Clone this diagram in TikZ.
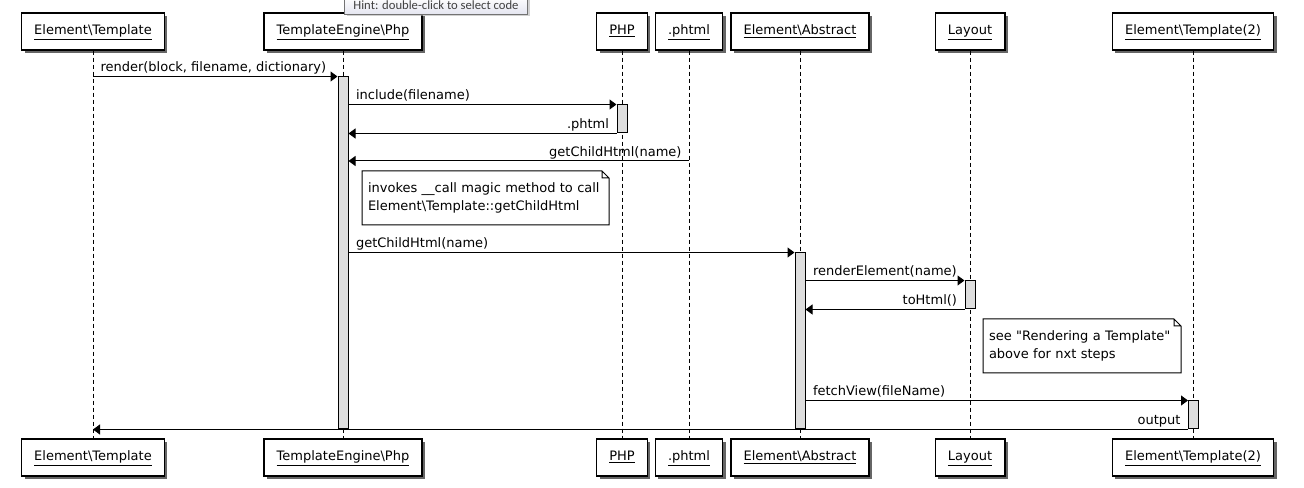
\documentclass[tikz,border=0pt]{standalone}
\usepackage{fontspec}
\setmainfont{DejaVu Sans}
\newfontfamily\hintfont{Carlito}
\usetikzlibrary{arrows.meta,shadows}
\definecolor{hintbottom}{RGB}{228,229,240}
\begin{document}
\begin{tikzpicture}[
    x=0.75pt, y=-0.75pt,
    font=\fontsize{9.75}{13.5}\selectfont,
    part/.style={draw, line width=1.1pt, fill=white, inner xsep=9.5pt, minimum height=27.75pt,
        text height=7.5pt, text depth=3pt,
        drop shadow={shadow xshift=2.25pt, shadow yshift=-2.25pt, fill=black!75, opacity=0.8}},
    lifeline/.style={line width=0.75pt, dash pattern=on 3pt off 2.25pt},
    actbar/.style={draw, line width=0.75pt, fill=black!13, minimum width=7.5pt, inner sep=0pt},
    msg/.style={line width=0.75pt, -{Triangle[length=5.25pt, width=7.5pt]}},
    tolabel/.style={anchor=base west, inner sep=0pt, xshift=5.25pt, yshift=3.4pt},
    backlabel/.style={anchor=base east, inner sep=0pt, xshift=-5.25pt, yshift=3.4pt},
    notebox/.style={anchor=north west, align=left, inner xsep=4.5pt, inner ysep=0pt, outer sep=0pt, minimum height=40.5pt},
    noteline/.style={line width=0.75pt},
    hint/.style={anchor=south west, draw=black!55, line width=0.75pt, top color=white, bottom color=hintbottom,
        text=black!75, font=\hintfont\fontsize{9.5}{10}\selectfont, minimum width=137.25pt, minimum height=13.5pt, inner sep=1pt,
        drop shadow={shadow xshift=1.5pt, shadow yshift=-1.5pt, fill=black!30, opacity=0.6}}
]
\useasboundingbox (0,0) rectangle (1304,488);
\node [part] (et) at (93,31.5) {\underline{Element\textbackslash Template}};
\node [part] (te) at (343,31.5) {\underline{TemplateEngine\textbackslash Php}};
\node [part] (php) at (622,31.5) {\underline{PHP}};
\node [part] (pht) at (689,31.5) {\underline{.phtml}};
\node [part] (ea) at (800,31.5) {\underline{Element\textbackslash Abstract}};
\node [part] (lay) at (970,31.5) {\underline{Layout}};
\node [part] (et2) at (1193,31.5) {\underline{Element\textbackslash Template(2)}};
\node [part] (etb) at (93,457.5) {\underline{Element\textbackslash Template}};
\node [part] (teb) at (343,457.5) {\underline{TemplateEngine\textbackslash Php}};
\node [part] (phpb) at (622,457.5) {\underline{PHP}};
\node [part] (phtb) at (689,457.5) {\underline{.phtml}};
\node [part] (eab) at (800,457.5) {\underline{Element\textbackslash Abstract}};
\node [part] (layb) at (970,457.5) {\underline{Layout}};
\node [part] (et2b) at (1193,457.5) {\underline{Element\textbackslash Template(2)}};
\draw [lifeline] (et) -- (etb);
\draw [lifeline] (te) -- (teb);
\draw [lifeline] (php) -- (phpb);
\draw [lifeline] (pht) -- (phtb);
\draw [lifeline] (ea) -- (eab);
\draw [lifeline] (lay) -- (layb);
\draw [lifeline] (et2) -- (et2b);
\node [actbar, minimum height=264pt] (tebar) at (343,253) {};
\node [actbar, minimum height=21pt] (phpbar) at (622,119) {};
\node [actbar, minimum height=132pt] (eabar) at (800,341) {};
\node [actbar, minimum height=21pt] (laybar) at (970,295) {};
\node [actbar, minimum height=21pt] (et2bar) at (1193.5,415) {};
\coordinate (childcall) at (689,161);
\draw [msg] (et |- tebar.north) -- (tebar.north west)
    node [pos=0, tolabel] {render(block, filename, dictionary)};
\draw [msg] (tebar.east |- phpbar.north) -- (phpbar.north west)
    node [pos=0, tolabel] {include(filename)};
\draw [msg] (phpbar.south west) -- (tebar.east |- phpbar.south)
    node [pos=0, backlabel] {.phtml};
\draw [msg] (childcall) -- (tebar.east |- childcall)
    node [pos=0, backlabel] {getChildHtml(name)};
\draw [msg] (tebar.east |- eabar.north) -- (eabar.north west)
    node [pos=0, tolabel] {getChildHtml(name)};
\draw [msg] (eabar.east |- laybar.north) -- (laybar.north west)
    node [pos=0, tolabel] {renderElement(name)};
\draw [msg] (laybar.south west) -- (eabar.east |- laybar.south)
    node [pos=0, backlabel] {toHtml()};
\draw [msg] (eabar.east |- et2bar.north) -- (et2bar.north west)
    node [pos=0, tolabel] {fetchView(fileName)};
\draw [msg] (et2bar.south west) -- (et |- et2bar.south)
    node [pos=0, backlabel] {output};
\node [notebox, text width=176.25pt] (note1) at (362,171) {invokes \_\_call magic method to call\\Element\textbackslash Template::getChildHtml};
\draw [noteline] (note1.north west) -- ([xshift=-5.25pt]note1.north east) -- ([yshift=-5.25pt]note1.north east)
    -- (note1.south east) -- (note1.south west) -- cycle
    ([xshift=-5.25pt]note1.north east) |- ([yshift=-5.25pt]note1.north east);
\node [notebox, text width=139.5pt] (note2) at (983,319) {see \textquotedbl Rendering a Template\textquotedbl\\above for nxt steps};
\draw [noteline] (note2.north west) -- ([xshift=-5.25pt]note2.north east) -- ([yshift=-5.25pt]note2.north east)
    -- (note2.south east) -- (note2.south west) -- cycle
    ([xshift=-5.25pt]note2.north east) |- ([yshift=-5.25pt]note2.north east);
\node [hint] (hint) at (344,15) {Hint: double-click to select code};
\end{tikzpicture}
\end{document}
